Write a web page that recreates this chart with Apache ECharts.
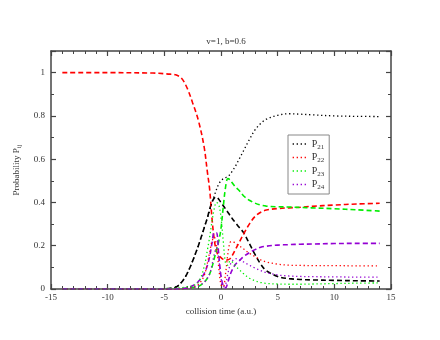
<!DOCTYPE html>
<html>
<head>
<meta charset="utf-8">
<script src="https://cdn.jsdelivr.net/npm/echarts@6/dist/echarts.min.js"></script>
<style>
  html, body { margin: 0; padding: 0; background: #fff; }
  #chart { width: 440px; height: 340px; }
</style>
</head>
<body>
<div id="chart"></div>
<script>
// collision time grid (a.u.)
var times = [-14, -10, -6, -5, -4.5, -4, -3.5, -3, -2.5, -2, -1.5, -1.2, -1, -0.8, -0.6, -0.4, -0.2, 0,
  0.2, 0.4, 0.6, 0.8, 1, 1.3, 1.6, 2, 2.5, 3, 3.5, 4, 5, 6, 7, 8, 10, 12, 14];

// dashed curves
var p11 = [1, 1, 0.998, 0.995, 0.993, 0.99, 0.975, 0.93, 0.86, 0.78, 0.66, 0.54, 0.46, 0.33, 0.23, 0.175, 0.155, 0.145,
  0.137, 0.133, 0.135, 0.14, 0.155, 0.185, 0.215, 0.255, 0.3, 0.335, 0.355, 0.365, 0.372, 0.375, 0.378, 0.382, 0.388, 0.393, 0.396];
var p12 = [0, 0, 0, 0.001, 0.003, 0.008, 0.03, 0.07, 0.13, 0.2, 0.28, 0.33, 0.37, 0.4, 0.42, 0.425, 0.415, 0.4,
  0.385, 0.37, 0.355, 0.34, 0.325, 0.305, 0.285, 0.26, 0.21, 0.16, 0.115, 0.085, 0.058, 0.048, 0.044, 0.042, 0.04, 0.038, 0.037];
var p13 = [0, 0, 0, 0, 0, 0.001, 0.002, 0.004, 0.007, 0.012, 0.03, 0.05, 0.07, 0.1, 0.14, 0.18, 0.22, 0.28,
  0.38, 0.47, 0.51, 0.505, 0.49, 0.47, 0.455, 0.43, 0.41, 0.397, 0.388, 0.383, 0.38, 0.379, 0.377, 0.375, 0.371, 0.366, 0.36];
var p14 = [0, 0, 0, 0, 0, 0, 0.002, 0.005, 0.015, 0.035, 0.07, 0.11, 0.15, 0.21, 0.26, 0.26, 0.16, 0.06,
  0.015, 0.005, 0.03, 0.065, 0.09, 0.115, 0.13, 0.15, 0.168, 0.182, 0.193, 0.198, 0.203, 0.205, 0.207, 0.208, 0.21, 0.211, 0.211];

// dotted curves
var p21 = [0, 0, 0, 0.001, 0.003, 0.008, 0.03, 0.07, 0.13, 0.2, 0.28, 0.33, 0.36, 0.4, 0.43, 0.46, 0.485, 0.5,
  0.51, 0.515, 0.52, 0.53, 0.545, 0.57, 0.6, 0.64, 0.69, 0.735, 0.765, 0.785, 0.803, 0.81, 0.808, 0.805, 0.8, 0.798, 0.797];
var p22 = [0, 0, 0, 0, 0, 0, 0.001, 0.003, 0.008, 0.02, 0.06, 0.12, 0.17, 0.22, 0.24, 0.2, 0.1, 0.02,
  0.01, 0.07, 0.16, 0.215, 0.22, 0.21, 0.2, 0.185, 0.165, 0.15, 0.135, 0.125, 0.115, 0.11, 0.109, 0.108, 0.108, 0.107, 0.107];
var p23 = [0, 0, 0.001, 0.002, 0.003, 0.004, 0.006, 0.01, 0.015, 0.03, 0.1, 0.18, 0.24, 0.31, 0.37, 0.4, 0.39, 0.33,
  0.22, 0.12, 0.11, 0.13, 0.125, 0.105, 0.09, 0.07, 0.05, 0.038, 0.03, 0.026, 0.023, 0.022, 0.022, 0.023, 0.025, 0.027, 0.028];
var p24 = [0, 0, 0, 0, 0, 0, 0.001, 0.003, 0.007, 0.015, 0.03, 0.05, 0.07, 0.11, 0.16, 0.19, 0.14, 0.05,
  0.01, 0.02, 0.07, 0.11, 0.13, 0.14, 0.135, 0.125, 0.11, 0.097, 0.085, 0.076, 0.065, 0.06, 0.058, 0.057, 0.056, 0.055, 0.055];

var xTicks = [-15, -10, -5, 0, 5, 10, 15];
var legendNames = ['P21', 'P22', 'P23', 'P24'];

var black = '#000000', red = '#ff0000', green = '#00ee00', violet = '#9400d3';
var serif = 'Liberation Serif';

function pairs(vals) {
  var out = [];
  for (var i = 0; i < times.length; i++) out.push([times[i], vals[i]]);
  return out;
}

function dashed(vals, color) {
  return {
    type: 'line', data: pairs(vals), showSymbol: false, symbol: 'none', smooth: 0.35,
    silent: true, lineStyle: { color: color, width: 1.6, type: [5, 3] }
  };
}
function dotted(name, vals, color) {
  return {
    name: name, type: 'line', data: pairs(vals), showSymbol: false, symbol: 'none', smooth: 0.35,
    itemStyle: { color: color },
    lineStyle: { color: color, width: 1.3, type: [1.3, 2.7] }
  };
}

var frameLine = { show: true, onZero: false, lineStyle: { color: '#444', width: 1.5 } };

var myChart = echarts.init(document.getElementById('chart'));
var option = {
  animation: false,
  backgroundColor: '#fff',
  title: {
    text: 'v=1, b=0.6', left: 221, top: 32, textAlign: 'center',
    textStyle: { fontFamily: serif, fontSize: 9, fontWeight: 'normal', color: '#333' }
  },
  grid: { left: 51, right: 49, top: 51, bottom: 51 },
  legend: {
    data: legendNames, orient: 'vertical', left: 288, top: 135,
    padding: [4, 5, 3, 4], itemGap: 2, itemWidth: 14, itemHeight: 8,
    backgroundColor: '#fff', borderColor: '#888', borderWidth: 1, borderRadius: 0,
    itemStyle: { opacity: 0 },
    lineStyle: { width: 1.3, type: [1.3, 2.7] },
    formatter: function (n) { return '{a|P}{b|' + n.slice(1) + '}'; },
    textStyle: {
      rich: {
        a: { fontFamily: serif, fontSize: 10, color: '#333' },
        b: { fontFamily: serif, fontSize: 7, color: '#333', padding: [6, 0, 0, 0] }
      }
    }
  },
  xAxis: [{
    type: 'value', min: -15, max: 15, interval: 5,
    name: 'collision time (a.u.)', nameLocation: 'middle', nameGap: 15,
    nameTextStyle: { fontFamily: serif, fontSize: 9, color: '#333' },
    axisLine: frameLine,
    axisTick: { show: true, inside: true, length: 5, lineStyle: { color: '#444', width: 1.2 } },
    minorTick: { show: true, splitNumber: 5, length: 3, lineStyle: { color: '#444', width: 1 } },
    axisLabel: { margin: 4, fontFamily: serif, fontSize: 9, color: '#333',
      formatter: function (v) { return xTicks.indexOf(v) >= 0 ? String(v) : ''; } },
    splitLine: { show: false }
  }, {
    type: 'value', min: -15, max: 15, interval: 5, position: 'top',
    axisLine: frameLine,
    axisTick: { show: true, inside: true, length: 5, lineStyle: { color: '#444', width: 1.2 } },
    minorTick: { show: true, splitNumber: 5, length: 3, lineStyle: { color: '#444', width: 1 } },
    axisLabel: { show: false }, splitLine: { show: false }
  }],
  yAxis: [{
    type: 'value', min: 0, max: 1.1, interval: 0.2,
    name: '{a|Probability P}{b|ij}', nameLocation: 'middle', nameGap: 27,
    nameTextStyle: {
      rich: {
        a: { fontFamily: serif, fontSize: 9, color: '#333' },
        b: { fontFamily: serif, fontSize: 6.5, color: '#333', padding: [5, 0, 0, 0] }
      }
    },
    axisLine: frameLine,
    axisTick: { show: true, inside: true, length: 5, lineStyle: { color: '#444', width: 1.2 } },
    minorTick: { show: true, splitNumber: 2, length: 3, lineStyle: { color: '#444', width: 1 } },
    axisLabel: { margin: 6, showMaxLabel: false, fontFamily: serif, fontSize: 9, color: '#333' },
    splitLine: { show: false }
  }, {
    type: 'value', min: 0, max: 1.1, interval: 0.2, position: 'right',
    axisLine: frameLine,
    axisTick: { show: true, inside: true, length: 5, lineStyle: { color: '#444', width: 1.2 } },
    minorTick: { show: true, splitNumber: 2, length: 3, lineStyle: { color: '#444', width: 1 } },
    axisLabel: { show: false }, splitLine: { show: false }
  }],
  series: [
    dashed(p12, black),
    dashed(p11, red),
    dashed(p13, green),
    dashed(p14, violet),
    dotted('P21', p21, black),
    dotted('P22', p22, red),
    dotted('P23', p23, green),
    dotted('P24', p24, violet)
  ]
};
myChart.setOption(option);
</script>
</body>
</html>
